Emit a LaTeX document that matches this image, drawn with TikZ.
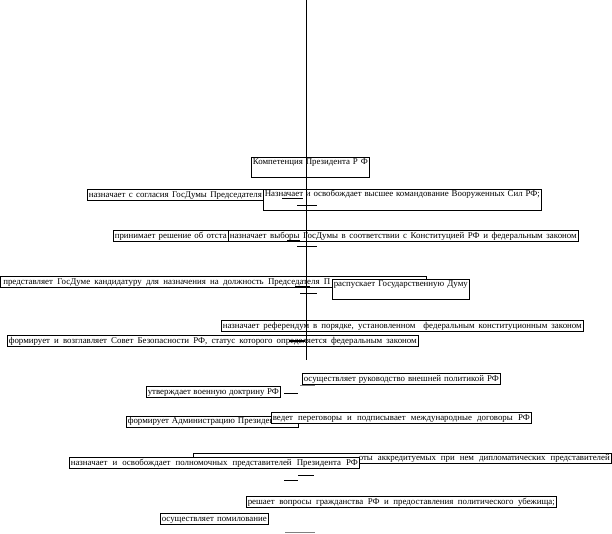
\documentclass[tikz,border=0pt]{standalone}
\usepackage{fontspec}
\setmainfont{Liberation Serif}
\newcommand\fs{\fontsize{8.9}{9}\selectfont}
\newcommand\fitw[2]{\makebox[\dimexpr#1bp-3pt\relax][s]{#2}}
\tikzset{
  bx/.style={draw, line width=0.6pt, fill=white, anchor=north west, inner xsep=1.5pt, inner ysep=0pt,
    font=\fs, text height=7.6pt, text depth=2.6pt, minimum height=11bp, align=left},
  tall/.style={text depth=#1},
  ln/.style={line width=0.7pt},
  gln/.style={line width=0.7pt, gray}
}
\begin{document}
\begin{tikzpicture}[x=1bp,y=-1bp]
\useasboundingbox (0,0) rectangle (612,534);
% boxes
\node[bx, minimum width=118bp, tall=12pt] (A) at (251,157) {\fitw{118}{Компетенция Президента Р Ф}};
\node[bx, minimum width=176bp] (B) at (87,189) {\fitw{176}{назначает с согласия ГосДумы Председателя}};
\node[bx, minimum width=278bp, tall=13.2pt] (C) at (263,189) {\fitw{278}{Назначает и освобождает высшее командование Вооруженных Сил РФ;}};
\node[bx, minimum width=115bp] (D) at (113,230) {\fitw{115}{принимает решение об отста}};
\node[bx, minimum width=350bp] (E) at (228,230) {\fitw{350}{назначает выборы ГосДумы в соответствии с Конституцией РФ и федеральным законом}};
\node[bx, minimum width=426bp] (F) at (0,276) {\fitw{330}{представляет ГосДуме кандидатуру для назначения на должность Председателя П}\hspace{93bp}};
\node[bx, minimum width=137bp, tall=12pt] (G) at (332,279) {\fitw{137}{распускает Государственную Думу}};
\node[bx, minimum width=362bp] (H) at (221,320) {\fitw{362}{назначает референдум в порядке, установленном \ федеральным конституционным законом}};
\node[bx, minimum width=411bp] (I) at (7,335) {\fitw{411}{формирует и возглавляет Совет Безопасности РФ, статус которого определяется федеральным законом}};
\node[bx, minimum width=198bp] (J) at (302,373) {\fitw{198}{осуществляет руководство внешней политикой РФ}};
\node[bx, minimum width=134bp] (K) at (146,386) {\fitw{134}{утверждает военную доктрину РФ}};
\node[bx, minimum width=172bp, tall=3.6pt] (L) at (126,416) {\fitw{172}{формирует Администрацию Президента РФ}};
\node[bx, minimum width=260bp] (M) at (271,412) {\fitw{260}{ведет переговоры и подписывает международные договоры РФ}};
\node[bx, minimum width=418bp, text height=7.2pt, text depth=2.2pt, minimum height=10bp] (N) at (193,453) {\hspace{164bp}\fitw{254}{оты аккредитуемых при нем дипломатических представителей}};
\node[bx, minimum width=290bp] (O) at (69,457) {\fitw{290}{назначает и освобождает полномочных представителей Президента РФ}};
\node[bx, minimum width=310bp] (P) at (246,496) {\fitw{310}{решает вопросы гражданства РФ и предоставления политического убежища;}};
\node[bx, minimum width=108bp] (Q) at (160,513) {\fitw{108}{осуществляет помилование}};
% axis
\coordinate (top) at (306,0);
\coordinate (bot) at (306,360);
\draw[ln] (top) -- (bot);
% short marks
\coordinate (u1a) at (282,198); \coordinate (u1b) at (303,198);
\coordinate (c1a) at (297,205); \coordinate (c1b) at (317,205);
\coordinate (u2a) at (287,240); \coordinate (u2b) at (300,240);
\coordinate (c2a) at (297,246); \coordinate (c2b) at (317,246);
\coordinate (u3a) at (295,286); \coordinate (u3b) at (310,286);
\coordinate (c3a) at (300,293); \coordinate (c3b) at (317,293);
\coordinate (u4a) at (289,341); \coordinate (u4b) at (305,341);
\coordinate (u5a) at (300,385); \coordinate (u5b) at (315,385);
\coordinate (k1a) at (284,393); \coordinate (k1b) at (298,393);
\coordinate (o1a) at (284,480); \coordinate (o1b) at (298,480);
\coordinate (o2a) at (298,475); \coordinate (o2b) at (314,475);
\coordinate (b1a) at (285,532); \coordinate (b1b) at (315,532);
\draw[ln] (u1a) -- (u1b); \draw[ln] (c1a) -- (c1b);
\draw[ln] (u2a) -- (u2b); \draw[ln] (c2a) -- (c2b);
\draw[ln] (u3a) -- (u3b); \draw[ln] (c3a) -- (c3b);
\draw[line width=1.2pt] (u4a) -- (u4b);
\draw[gln] (u5a) -- (u5b);
\draw[ln] (k1a) -- (k1b);
\draw[ln] (o1a) -- (o1b); \draw[ln] (o2a) -- (o2b);
\draw[gln] (b1a) -- (b1b);
\end{tikzpicture}
\end{document}
